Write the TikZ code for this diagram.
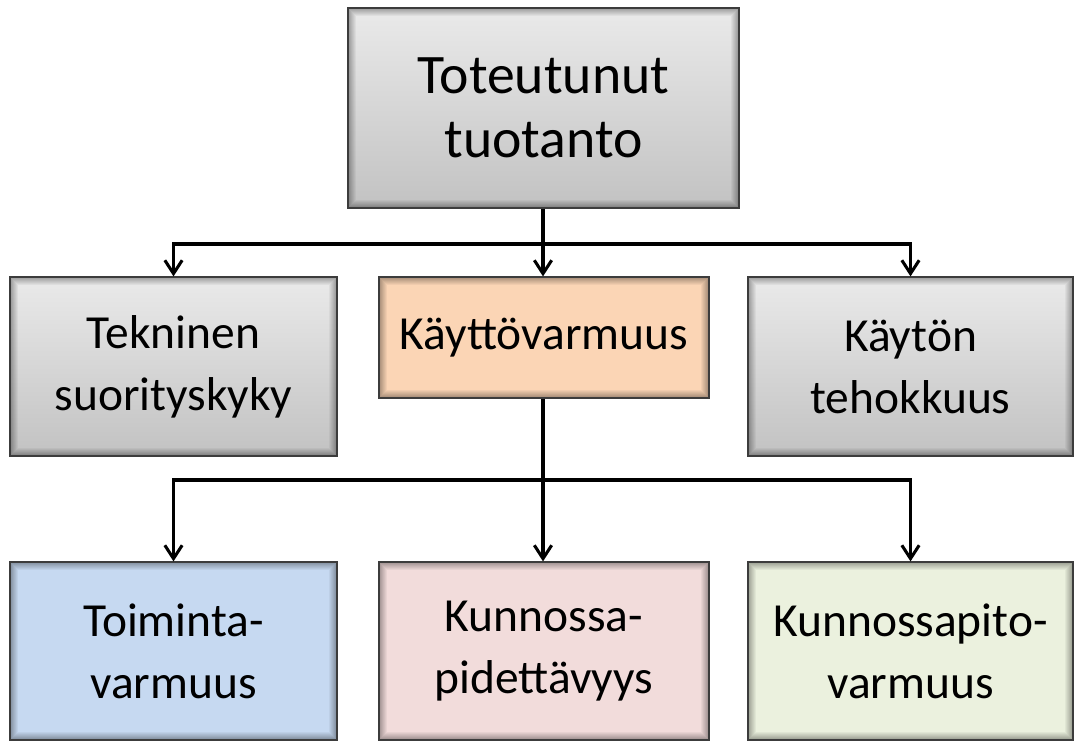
\documentclass[tikz,border=0pt]{standalone}
\usepackage{fontspec}
\setmainfont{Carlito}
\usetikzlibrary{arrows.meta}

\definecolor{greytop}{RGB}{234,234,234}
\definecolor{greybot}{RGB}{194,194,194}
\definecolor{peach}{RGB}{251,213,181}
\definecolor{paleblue}{RGB}{198,217,241}
\definecolor{palerose}{RGB}{242,220,219}
\definecolor{palegreen}{RGB}{235,241,222}
\definecolor{edge}{RGB}{60,60,60}

% soft dark glow along the inside of each box
\newcommand\innerglow{%
  \foreach \k in {1,...,8}{%
    \pgfmathsetmacro\op{0.34*(1-(\k-1)/8)}%
    \draw[black, draw opacity=\op, line width=0.75pt]
      ([xshift=\k*0.75pt-0.375pt, yshift=\k*0.75pt-0.375pt]path picture bounding box.south west)
      rectangle
      ([xshift=-\k*0.75pt+0.375pt, yshift=-\k*0.75pt+0.375pt]path picture bounding box.north east);
  }}

\tikzset{
  box/.style={draw=edge, line width=0.9pt, align=center, inner sep=0pt,
    font=\fontsize{35.6}{46.5}\selectfont, path picture={\innerglow}},
  greybox/.style={box, top color=greytop, bottom color=greybot},
  wide/.style 2 args={minimum width=#1*0.75pt, minimum height=#2*0.75pt},
  conn/.style={line width=2.3pt, black},
  arr/.style={conn, -{Straight Barb[length=10pt, width=13pt, line width=2.3pt]}},
}

\begin{document}
\begin{tikzpicture}[x=0.75pt, y=-0.75pt]
  \useasboundingbox (0,0) rectangle (1074,740);
  \fill[white] (0,0) rectangle (1074,740);

  % top level
  \node[greybox, wide={391}{200}, font=\fontsize{41.8}{48}\selectfont]
    (tot) at (543.5,108) {Toteutunut\\tuotanto};

  % second level
  \node[greybox, wide={327}{179}] (tek) at (173.5,366.5) {Tekninen\\suorityskyky};
  \node[box, fill=peach, wide={330}{121}] (kv) at (544,337.5) {Käyttövarmuus};
  \node[greybox, wide={325}{179}] (teh) at (910.5,366.5) {Käytön\\tehokkuus};

  % third level
  \node[box, fill=paleblue, wide={327}{178}] (tv) at (173.5,651) {Toiminta-\\varmuus};
  \node[box, fill=palerose, wide={330}{178}] (kp) at (544,651) {Kunnossa-\\pidettävyys};
  \node[box, fill=palegreen, wide={325}{178}] (kpv) at (910.5,651) {Kunnossapito-\\varmuus};

  % branching points
  \coordinate (b1) at (543,244);
  \coordinate (b2) at (543,480);

  % connectors from the top box
  \draw[conn] (tot.south -| b1) -- (b1);
  \draw[arr] (b1) -- (b1 |- kv.north);
  \draw[arr] (b1) -| (tek.north);
  \draw[arr] (b1) -| (teh.north);

  % connectors from Käyttövarmuus
  \draw[conn] (kv.south -| b2) -- (b2);
  \draw[arr] (b2) -- (b2 |- kp.north);
  \draw[arr] (b2) -| (tv.north);
  \draw[arr] (b2) -| (kpv.north);
\end{tikzpicture}
\end{document}
